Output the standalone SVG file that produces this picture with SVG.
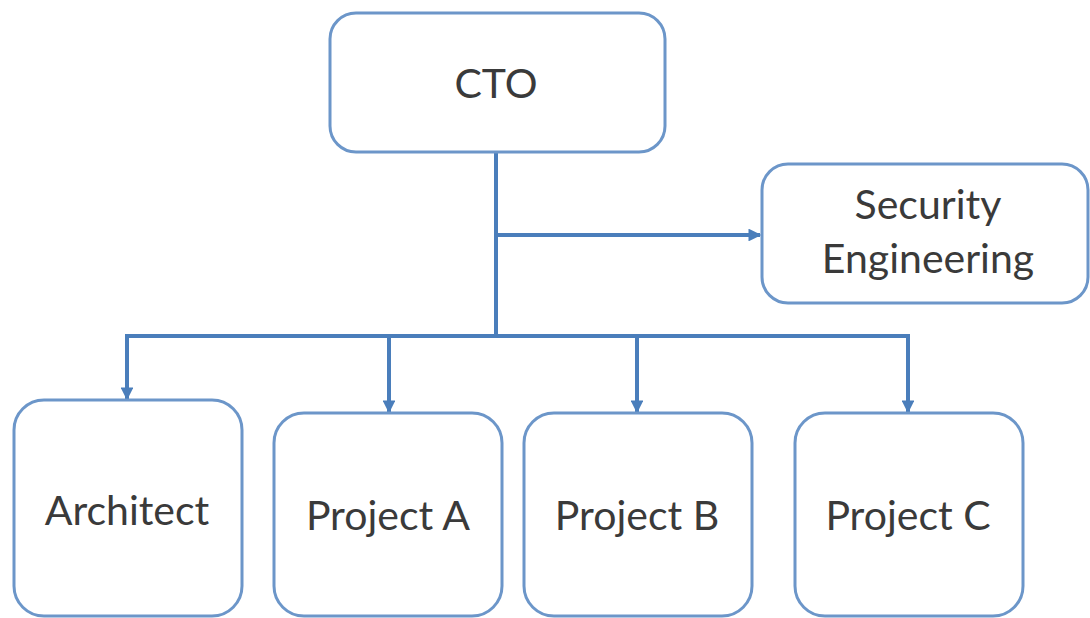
<svg xmlns="http://www.w3.org/2000/svg" width="1090" height="618" viewBox="0 0 1090 618">
<style>
.box{fill:#ffffff;stroke:#6c96c9;stroke-width:3}
.lbl{font-family:Lato,"Open Sans","Liberation Sans",sans-serif;font-size:41px;fill:#3a3a3a;text-anchor:middle}
.con{fill:none;stroke:#4a7ebb;stroke-width:4}
</style>
<defs>
<marker id="arr" viewBox="0 0 10 10" refX="9" refY="5" markerWidth="3.2" markerHeight="3.2" orient="auto" markerUnits="strokeWidth">
<path d="M0,0 L10,5 L0,10 Z" fill="#4a7ebb"/>
</marker>
</defs>
<rect width="1090" height="618" fill="#ffffff"/>
<g id="connectors">
<line class="con" x1="496" y1="153" x2="496" y2="338" stroke-width="5"/>
<line class="con" x1="496" y1="235" x2="760" y2="235" marker-end="url(#arr)"/>
<line class="con" x1="125" y1="336" x2="910" y2="336"/>
<line class="con" x1="127" y1="334" x2="127" y2="399" marker-end="url(#arr)"/>
<line class="con" x1="389" y1="334" x2="389" y2="412" marker-end="url(#arr)"/>
<line class="con" x1="637" y1="334" x2="637" y2="412" marker-end="url(#arr)"/>
<line class="con" x1="908" y1="334" x2="908" y2="412" marker-end="url(#arr)"/>
</g>
<g id="cto">
<rect class="box" x="330" y="13" width="335" height="139" rx="26"/>
<text class="lbl" x="496" y="98">CTO</text>
</g>
<g id="security">
<rect class="box" x="762" y="164" width="326" height="139" rx="26"/>
<text class="lbl" x="928" y="219">Security</text>
<text class="lbl" x="928" y="273">Engineering</text>
</g>
<g id="architect">
<rect class="box" x="14" y="400" width="228" height="216" rx="30"/>
<text class="lbl" x="127" y="525">Architect</text>
</g>
<g id="projectA">
<rect class="box" x="274" y="413" width="228" height="203" rx="30"/>
<text class="lbl" x="388" y="530">Project A</text>
</g>
<g id="projectB">
<rect class="box" x="524" y="413" width="228" height="203" rx="30"/>
<text class="lbl" x="637" y="530">Project B</text>
</g>
<g id="projectC">
<rect class="box" x="795" y="413" width="228" height="203" rx="30"/>
<text class="lbl" x="908" y="530">Project C</text>
</g>
</svg>
